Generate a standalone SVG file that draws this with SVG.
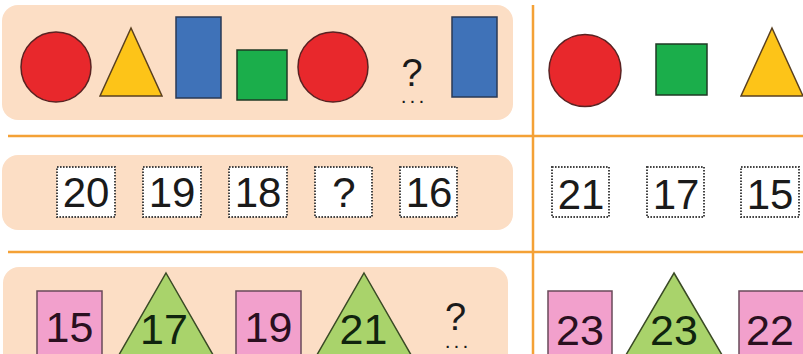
<svg xmlns="http://www.w3.org/2000/svg" width="803" height="354" viewBox="0 0 803 354">
<style>
.panel{fill:#fcdec5}
.line{stroke:#f4a136;stroke-width:2.5;fill:none}
.red{fill:#e8282c;stroke:#5a2222;stroke-width:1.5}
.yel{fill:#fdc418;stroke:#5a4020;stroke-width:1.5}
.blue{fill:#3f72b8;stroke:#2a3a55;stroke-width:1.5}
.grn{fill:#1bae4b;stroke:#1f3a25;stroke-width:1.5}
.box{fill:#ffffff;stroke:#444;stroke-width:2;stroke-dasharray:1.6 1.4}
.pink{fill:#f2a0cc;stroke:#6a4a5a;stroke-width:1.5}
.lg{fill:#a9d36b;stroke:#3a4a25;stroke-width:1.5}
.num{font-family:"Liberation Sans",Arial,sans-serif;font-size:42px;fill:#1a1a1a;text-anchor:middle}
.q{font-family:"Liberation Sans",Arial,sans-serif;font-size:38px;fill:#1a1a1a;text-anchor:middle}
.dots{font-size:21px;letter-spacing:3px}
.n3{font-family:"Liberation Sans",Arial,sans-serif;font-size:43px;fill:#2a1020;text-anchor:middle}
.n3g{font-family:"Liberation Sans",Arial,sans-serif;font-size:43px;fill:#10240e;text-anchor:middle}
</style>
<rect width="803" height="354" fill="#ffffff"/>
<g id="panels">
<rect class="panel" x="2" y="5" width="511" height="115" rx="16"/>
<rect class="panel" x="2" y="155" width="511" height="75" rx="16"/>
<rect class="panel" x="3" y="267" width="505" height="110" rx="16"/>
</g>
<g id="connectors">
<line class="line" x1="8" y1="136" x2="803" y2="136"/>
<line class="line" x1="8" y1="252" x2="803" y2="252"/>
<line class="line" x1="533" y1="5" x2="533" y2="354"/>
</g>
<g id="row1">
<g id="r1-circle1"><circle class="red" cx="56" cy="67" r="35"/></g>
<g id="r1-tri"><polygon class="yel" points="131,28 162,96 100,96"/></g>
<g id="r1-rect1"><rect class="blue" x="176" y="17" width="45" height="81"/></g>
<g id="r1-square"><rect class="grn" x="237" y="50" width="50" height="50"/></g>
<g id="r1-circle2"><circle class="red" cx="333" cy="67" r="35"/></g>
<g id="r1-q"><text class="q"><tspan x="412" y="86">?</tspan><tspan class="dots" x="414" y="103">...</tspan></text></g>
<g id="r1-rect2"><rect class="blue" x="452" y="17" width="45" height="80"/></g>
<g id="r1-opt1"><circle class="red" cx="585" cy="70.5" r="36"/></g>
<g id="r1-opt2"><rect class="grn" x="656" y="44" width="51" height="51"/></g>
<g id="r1-opt3"><polygon class="yel" points="772,28 803,96 741,96"/></g>
</g>
<g id="row2">
<g id="b20"><rect class="box" x="57" y="167" width="58" height="50"/><text class="num" x="86" y="207">20</text></g>
<g id="b19"><rect class="box" x="143" y="167" width="58" height="50"/><text class="num" x="172" y="207">19</text></g>
<g id="b18"><rect class="box" x="229" y="167" width="58" height="50"/><text class="num" x="258" y="207">18</text></g>
<g id="bq"><rect class="box" x="315" y="167" width="57" height="50"/><text class="num" x="344" y="207">?</text></g>
<g id="b16"><rect class="box" x="400" y="167" width="57" height="50"/><text class="num" x="429" y="207">16</text></g>
<g id="o21"><rect class="box" x="552" y="167" width="57" height="50"/><text class="num" x="581" y="209">21</text></g>
<g id="o17"><rect class="box" x="647" y="167" width="57" height="50"/><text class="num" x="676" y="209">17</text></g>
<g id="o15"><rect class="box" x="741" y="167" width="58" height="50"/><text class="num" x="770" y="209">15</text></g>
</g>
<g id="row3">
<g id="p15"><rect class="pink" x="37" y="291" width="65" height="70"/><text class="n3" x="69.5" y="342">15</text></g>
<g id="t17"><polygon class="lg" points="166,273 216,360 116,360"/><text class="n3g" x="164" y="344">17</text></g>
<g id="p19"><rect class="pink" x="236" y="291" width="65" height="70"/><text class="n3" x="268.5" y="342">19</text></g>
<g id="t21"><polygon class="lg" points="364,273 414,360 314,360"/><text class="n3g" x="363.5" y="344">21</text></g>
<g id="q3"><text class="q"><tspan x="455.5" y="330">?</tspan><tspan class="dots" x="458" y="348">...</tspan></text></g>
<g id="o23a"><rect class="pink" x="548" y="291" width="64" height="70"/><text class="n3" x="580" y="345">23</text></g>
<g id="o23b"><polygon class="lg" points="674,273 725,360 623,360"/><text class="n3g" x="674" y="345">23</text></g>
<g id="o22"><rect class="pink" x="739" y="291" width="66" height="70"/><text class="n3" x="770" y="345">22</text></g>
</g>
</svg>
